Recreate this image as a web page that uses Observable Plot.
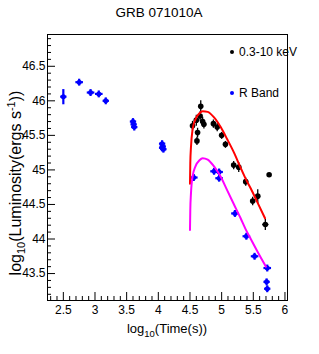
<!DOCTYPE html>
<html><head><meta charset="utf-8">
<script src="https://cdn.jsdelivr.net/npm/d3@7"></script>
<script src="https://cdn.jsdelivr.net/npm/@observablehq/plot@0.6"></script>
<style>body{margin:0;background:#fff;} svg{display:block}</style>
</head><body><div id="chart"></div>
<script>
// ---- data ----
const title = "GRB 071010A";
const legendLabels = ["0.3-10 keV", "R Band"];
const xTickValues = [2.5, 3, 3.5, 4, 4.5, 5, 5.5, 6];
const yTickValues = [43.5, 44, 44.5, 45, 45.5, 46, 46.5];

// X-ray (0.3-10 keV) points
const xrayT   = [4.54, 4.60, 4.62, 4.61, 4.67, 4.66, 4.70, 4.72, 4.87, 4.93, 5.00, 5.06, 5.19, 5.27, 5.38, 5.49, 5.57, 5.69, 5.75];
const xrayL   = [45.64, 45.72, 45.54, 45.42, 45.92, 45.78, 45.70, 45.66, 45.67, 45.62, 45.50, 45.37, 45.07, 45.04, 44.83, 44.55, 44.62, 44.21, 44.93];
const xrayErr = [0.07, 0.08, 0.07, 0.06, 0.09, 0.07, 0.07, 0.06, 0.06, 0.06, 0.05, 0.05, 0.06, 0.07, 0.06, 0.06, 0.10, 0.08, 0];
const xrayTErr= [0.02, 0.02, 0.02, 0.02, 0.02, 0.02, 0.02, 0.02, 0.03, 0.03, 0.03, 0.03, 0.04, 0.04, 0.04, 0.04, 0.04, 0.05, 0];

// R band points
const rT    = [2.50, 2.75, 2.93, 3.06, 3.17, 3.60, 3.61, 3.62, 4.06, 4.07, 4.08, 4.06, 4.56, 4.88, 4.96, 4.96, 5.21, 5.39, 5.52, 5.72, 5.71, 5.72];
const rL    = [46.06, 46.27, 46.12, 46.10, 46.00, 45.70, 45.66, 45.62, 45.38, 45.34, 45.30, 45.32, 44.89, 44.98, 44.97, 44.88, 44.37, 44.04, 43.75, 43.58, 43.38, 43.28];
const rErr  = [0.11, 0.05, 0.05, 0.05, 0.05, 0.05, 0.05, 0.05, 0.05, 0.05, 0.05, 0.05, 0.05, 0.05, 0.05, 0.05, 0.05, 0.05, 0.05, 0.05, 0.05, 0.05];
const rTErr = [0.05, 0.06, 0.06, 0.06, 0.05, 0.05, 0.05, 0.05, 0.05, 0.05, 0.05, 0.05, 0.06, 0.06, 0.06, 0.06, 0.06, 0.06, 0.06, 0.06, 0.05, 0.05];

// model curves
const xrayModelT = [4.500, 4.505, 4.515, 4.54, 4.59, 4.65, 4.70, 4.78, 4.88, 4.985, 5.09, 5.195, 5.30, 5.38, 5.46, 5.565, 5.685];
const xrayModelL = [44.80, 45.10, 45.32, 45.58, 45.74, 45.82, 45.85, 45.84, 45.76, 45.62, 45.44, 45.25, 45.03, 44.87, 44.73, 44.53, 44.30];
const rModelT = [4.500, 4.505, 4.515, 4.54, 4.59, 4.65, 4.70, 4.78, 4.88, 4.985, 5.09, 5.195, 5.30, 5.38, 5.46, 5.565, 5.70];
const rModelL = [44.13, 44.42, 44.65, 44.90, 45.06, 45.14, 45.17, 45.15, 45.05, 44.90, 44.70, 44.50, 44.30, 44.14, 44.00, 43.82, 43.60];

// ---- tables ----
const xray = xrayT.map((t, i) => ({t, L: xrayL[i], e: xrayErr[i], te: xrayTErr[i]}));
const rband = rT.map((t, i) => ({t, L: rL[i], e: rErr[i], te: rTErr[i]}));
const xrayModel = xrayModelT.map((t, i) => ({t, L: xrayModelL[i]}));
const rModel = rModelT.map((t, i) => ({t, L: rModelL[i]}));

const FONT = '"Liberation Sans Narrow", "Liberation Sans", Arial, sans-serif';
const isHalf = v => Math.abs(v * 2 - Math.round(v * 2)) < 1e-6;
const xMinor = d3.range(23, 61).map(v => v / 10).filter(v => !isHalf(v));
const yMinor = d3.range(432, 470).map(v => v / 10).filter(v => !isHalf(v));

const plot = Plot.plot({
  width: 319, height: 354,
  marginLeft: 47, marginRight: 32, marginTop: 34, marginBottom: 54,
  x: {domain: [2.25, 6.04]},
  y: {domain: [43.11, 46.96]},
  style: {fontFamily: FONT, fontSize: "12px", background: "#fff", color: "#000"},
  marks: [
    Plot.axisX({ticks: xMinor, tickSize: 4, dy: -4, text: null, label: null, stroke: "#000"}),
    Plot.axisX({ticks: xTickValues, tickSize: 8, dy: -8, text: null, label: null, stroke: "#000"}),
    Plot.axisX({ticks: xTickValues, tickSize: 0, tickPadding: 5, tickFormat: d => String(d), label: null}),
    Plot.axisY({ticks: yMinor, tickSize: 4, dx: 4, text: null, label: null, stroke: "#000"}),
    Plot.axisY({ticks: yTickValues, tickSize: 8, dx: 8, text: null, label: null, stroke: "#000"}),
    Plot.axisY({ticks: yTickValues, tickSize: 0, tickPadding: 2, tickFormat: d => String(d), label: null}),
    Plot.frame({stroke: "#000", strokeWidth: 1}),
    // R band
    Plot.link(rband, {x1: d => d.t - d.te, x2: d => d.t + d.te, y1: "L", y2: "L", stroke: "#0000ff", strokeWidth: 2.2}),
    Plot.link(rband, {x1: "t", x2: "t", y1: d => d.L - d.e, y2: d => d.L + d.e, stroke: "#0000ff", strokeWidth: 2.2}),
    Plot.dot(rband, {x: "t", y: "L", r: 2.5, fill: "#0000ff"}),
    // X-ray
    Plot.link(xray.filter(d => d.te > 0), {x1: d => d.t - d.te, x2: d => d.t + d.te, y1: "L", y2: "L", stroke: "#000", strokeWidth: 1.3}),
    Plot.link(xray.filter(d => d.e > 0), {x1: "t", x2: "t", y1: d => d.L - d.e, y2: d => d.L + d.e, stroke: "#000", strokeWidth: 1.3}),
    Plot.dot(xray, {x: "t", y: "L", r: 2.8, fill: "#000"}),
    // models
    Plot.line(xrayModel, {x: "t", y: "L", stroke: "#ff0000", strokeWidth: 2, curve: "monotone-x"}),
    Plot.line(rModel, {x: "t", y: "L", stroke: "#ff00ff", strokeWidth: 2, curve: "monotone-x"})
  ]
});

const svg = d3.select(plot);
// title
svg.append("text").attr("x", 159).attr("y", 17).attr("text-anchor", "middle")
  .attr("font-family", FONT).attr("font-size", 13.5).attr("fill", "#000").text(title);
// x label
const xl = svg.append("text").attr("x", 167).attr("y", 333).attr("text-anchor", "middle")
  .attr("font-family", FONT).attr("font-size", 13).attr("fill", "#000");
xl.append("tspan").text("log");
xl.append("tspan").attr("dy", 4).attr("font-size", 9.5).text("10");
xl.append("tspan").attr("dy", -4).text("(Time(s))");
// y label
const yl = svg.append("text").attr("transform", "translate(21,183) rotate(-90)").attr("text-anchor", "middle")
  .attr("font-family", '"Liberation Sans", Arial, sans-serif').attr("font-size", 16).attr("fill", "#000");
yl.append("tspan").text("log");
yl.append("tspan").attr("dy", 4).attr("font-size", 11).text("10");
yl.append("tspan").attr("dy", -4).text("(Luminosity(ergs s");
yl.append("tspan").attr("dy", -6).attr("font-size", 11).text("-1");
yl.append("tspan").attr("dy", 6).text("))");
// legend
const legendColors = ["#000", "#0000ff"];
const legendY = [52, 93];
legendLabels.forEach((lab, i) => {
  svg.append("circle").attr("cx", 232).attr("cy", legendY[i]).attr("r", 2).attr("fill", legendColors[i]);
  svg.append("text").attr("x", 239).attr("y", legendY[i] + 4).attr("text-anchor", "start").attr("font-family", FONT)
    .attr("font-size", 12).attr("fill", "#000").text(lab);
});

document.getElementById("chart").appendChild(plot);
</script>
</body></html>
